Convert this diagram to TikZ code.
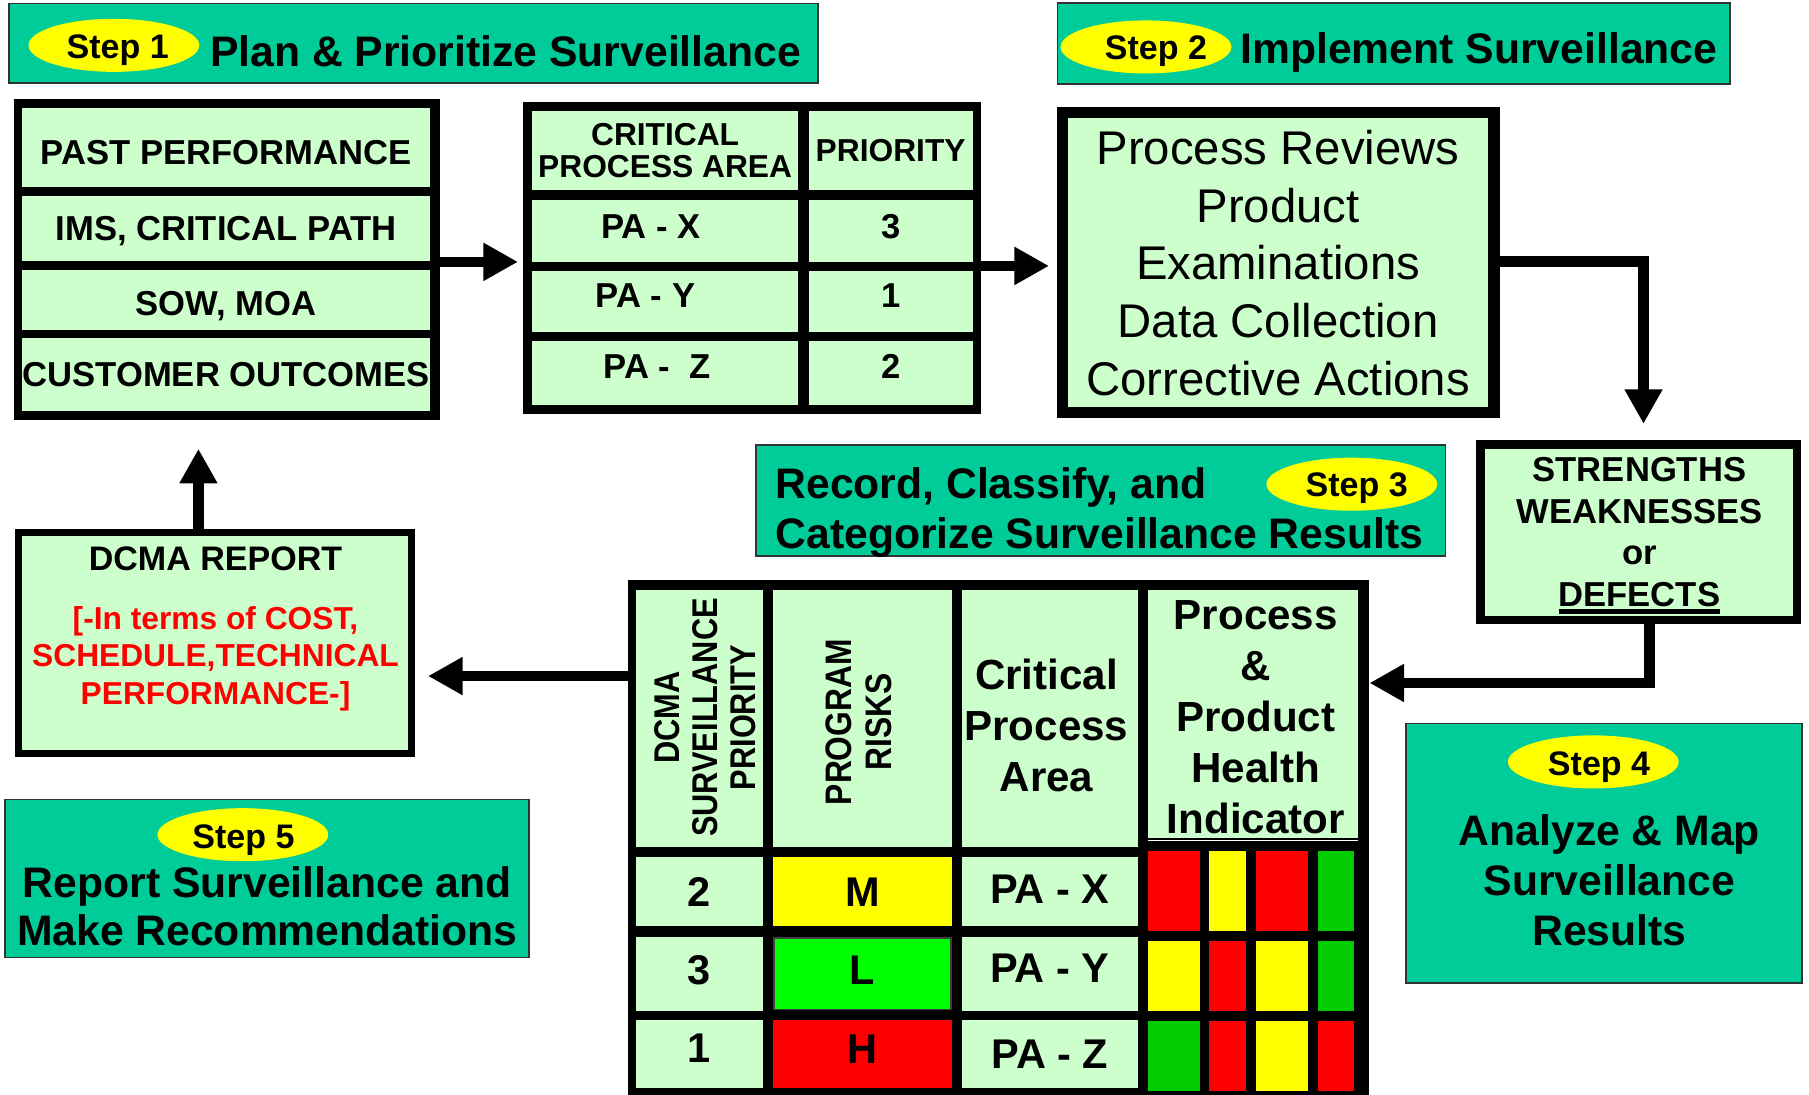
\documentclass[tikz,border=0pt]{standalone}
\usepackage{fontspec}
\setmainfont{Liberation Sans}
\newfontfamily\condfont[FakeStretch=0.86]{Liberation Sans}
\usetikzlibrary{arrows.meta,shapes.geometric,calc}
\definecolor{tealc}{HTML}{00CC99}
\definecolor{lgreen}{HTML}{CCFFCC}
\definecolor{yel}{HTML}{FFFF00}
\definecolor{rd}{HTML}{FF0000}
\definecolor{bgreen}{HTML}{00FF00}
\definecolor{dgreen}{HTML}{00CC00}
\definecolor{bline}{HTML}{333333}
\newcommand\setfs[2]{\fontsize{#1pt}{#2pt}\selectfont}
\newcommand\rectnode[7]{\node[#6, minimum width={(#4-#2)*1pt}, minimum height={(#5-#3)*1pt}] (#1) at ({(#2+#4)/2},{(#3+#5)/2}) {#7};}
\newcommand\thickul[1]{\setbox0=\hbox{#1}\rlap{\rule[-6.5pt]{\wd0}{4.5pt}}\box0}
\tikzset{
  frame/.style={fill=black, inner sep=0pt, outer sep=0pt},
  cell/.style={fill=lgreen, inner sep=0pt, outer sep=0pt, align=center, text depth=0pt},
  tabA/.style={cell, font=\setfs{30}{36}\bfseries},
  tabE/.style={cell, font=\setfs{36}{44}\bfseries},
  banner/.style={fill=tealc, draw=bline, line width=1.5pt, inner sep=0pt},
  stepoval/.style={ellipse, fill=yel, minimum width=148pt, minimum height=46pt, inner sep=0pt},
  steptext/.style={inner sep=0pt, text depth=0pt, font=\setfs{29.5}{34}\bfseries},
  title/.style={inner sep=0pt, text depth=0pt, font=\setfs{37}{44}\bfseries},
  hdrtext/.style={inner sep=0pt, text depth=0pt, align=center},
  bar/.style={inner sep=0pt, outer sep=0pt},
  arr/.style={line width=9pt, -{Triangle[length=30pt,width=31pt]}},
}
\begin{document}
\begin{tikzpicture}[x=1pt,y=-1pt]
\useasboundingbox (0,0) rectangle (1568,949);

% ---------- Step 1 banner
\rectnode{ban1}{8}{3}{709}{72}{banner}{}
\node[stepoval] (s1) at (98.7,39.3) {};
\node[steptext] (s1t) at (102,40) {Step 1};
\node[title, anchor=west] (t1) at (182,44.5) {Plan \& Prioritize Surveillance};

% ---------- Step 2 banner
\rectnode{ban2}{916.6}{2.8}{1499.5}{72.5}{banner}{}
\node[stepoval] (s2) at (993.3,40.7) {};
\node[steptext] (s2t) at (1002,41) {Step 2};
\node[title, anchor=west] (t2) at (1075,41.5) {Implement Surveillance};

% ---------- List A
\rectnode{fA}{12}{86}{381}{364}{frame}{}
\rectnode{a1}{19}{94}{373}{162}{tabA, text height=29.5pt}{PAST PERFORMANCE}
\rectnode{a2}{19}{170}{373}{226}{tabA}{IMS, CRITICAL PATH}
\rectnode{a3}{19}{234}{373}{286}{tabA, text height=27.5pt}{SOW, MOA}
\rectnode{a4}{19}{293}{373}{356}{tabA}{CUSTOMER OUTCOMES}

% ---------- Table B
\rectnode{fB}{453}{88}{850}{359}{frame}{}
\rectnode{b11}{461}{96}{692}{165}{cell, font=\setfs{27.5}{27.6}\bfseries}{CRITICAL\\PROCESS AREA}
\rectnode{b12}{701}{96}{843}{165}{cell, font=\setfs{27.5}{30}\bfseries}{PRIORITY}
\rectnode{b21}{461}{173}{692}{227}{tabA, text depth=7pt}{PA - X\hspace*{25pt}}
\rectnode{b22}{701}{173}{843}{227}{tabA, text depth=7pt}{3}
\rectnode{b31}{461}{235}{692}{288}{tabA, text depth=11pt}{PA - Y\hspace*{34pt}}
\rectnode{b32}{701}{235}{843}{288}{tabA, text depth=11pt}{1}
\rectnode{b41}{461}{296}{692}{351}{tabA, text depth=12pt}{PA - \ Z\hspace*{14pt}}
\rectnode{b42}{701}{296}{843}{351}{tabA, text depth=12pt}{2}

% ---------- Box C
\rectnode{fC}{916}{93}{1300}{362}{frame}{}
\rectnode{cC}{925.5}{102.6}{1290}{352.7}{cell, font=\setfs{41}{50}}{Process Reviews\\Product\\Examinations\\Data Collection\\Corrective Actions}

% ---------- Box D
\rectnode{fD}{1279.5}{381.4}{1561}{540.6}{frame}{}
\rectnode{cD}{1287.5}{389}{1554.5}{533.5}{cell, font=\setfs{30}{36}\bfseries}{STRENGTHS\\WEAKNESSES\\or\\\thickul{DEFECTS}}

% ---------- Step 3 banner
\rectnode{ban3}{655}{386}{1253}{482}{banner}{}
\node[title, anchor=west, align=left, font=\setfs{37}{43.5}\bfseries] (t3) at (672,440) {Record, Classify, and\\Categorize Surveillance Results};
\node[stepoval] (s3) at (1171.7,419.7) {};
\node[steptext] (s3t) at (1176,420) {Step 3};

% ---------- Step 4 banner
\rectnode{ban4}{1218.7}{627}{1562}{851.8}{banner}{}
\node[stepoval] (s4) at (1381,660.4) {};
\node[steptext] (s4t) at (1386,662) {Step 4};
\node[title, align=center, font=\setfs{37}{43.25}\bfseries] (t4) at (1395,762.8) {Analyze \& Map\\Surveillance\\Results};

% ---------- Step 5 banner
\rectnode{ban5}{4.2}{693}{458.5}{830}{banner}{}
\node[stepoval] (s5) at (210.5,723.5) {};
\node[steptext] (s5t) at (211,725) {Step 5};
\node[title, align=center, font=\setfs{37}{41.8}\bfseries] (t5) at (231.7,785.1) {Report Surveillance and\\Make Recommendations};

% ---------- Box F
\rectnode{fF}{13}{458.5}{360}{656}{frame}{}
\rectnode{cF}{19.5}{464.7}{354}{650}{cell}{}
\node[hdrtext, font=\setfs{29.5}{34}\bfseries] (fT1) at (186.8,483.8) {DCMA REPORT};
\node[hdrtext, text=rd, font=\setfs{27.5}{32.5}\bfseries] (fT2) at (186.8,568) {[-In terms of COST,\\SCHEDULE,TECHNICAL\\PERFORMANCE-]};

% ---------- Table E
\rectnode{fE}{544}{503}{1187}{949}{frame}{}
\rectnode{h1}{551}{511}{661}{734}{cell}{}
\node[hdrtext, rotate=90, font=\condfont\setfs{31}{33}\bfseries] (h1t) at (611,622) {DCMA\\SURVEILLANCE\\PRIORITY};
\rectnode{h2}{670}{511}{825}{734}{cell}{}
\node[hdrtext, rotate=90, font=\condfont\setfs{32}{35}\bfseries] (h2t) at (744,626) {PROGRAM\\RISKS};
\rectnode{h3}{834}{511}{986}{734}{cell}{}
\node[hdrtext, font=\setfs{36.5}{44.2}\bfseries] (h3t) at (907,628.2) {Critical\\Process\\Area};
\rectnode{h4}{995}{511}{1177}{726}{cell}{}
\node[hdrtext, font=\setfs{36.5}{44.25}\bfseries] (h4t) at (1088.5,621.5) {Process\\\&\\Product\\Health\\Indicator};
\draw[white, line width=1.5pt] ([yshift=-2.5pt]h4.south west) -- ([yshift=-2.5pt]h4.south east);

\rectnode{e11}{551}{743}{661}{803}{tabE}{2}
\rectnode{e12}{670}{743}{825}{803}{tabE, fill=yel}{M}
\rectnode{e13}{834}{743}{986}{803}{tabE, text depth=4pt}{PA - X}
\rectnode{e21}{551}{812}{661}{876}{tabE, text depth=7pt}{3}
\rectnode{e22}{671}{813}{824}{875}{tabE, fill=bgreen, draw=black!75, line width=1.5pt, text depth=6pt}{L}
\rectnode{e23}{834}{812}{986}{876}{tabE, text depth=10pt}{PA - Y}
\rectnode{e31}{551}{884}{661}{943}{tabE, text depth=10pt}{1}
\rectnode{e32}{670}{884}{825}{943}{tabE, fill=rd, text depth=8pt}{H}
\rectnode{e33}{834}{884}{986}{943}{tabE}{PA - Z}

% health indicator bars
\rectnode{g11}{995}{738}{1040}{807}{bar, fill=rd}{}
\rectnode{g12}{1048}{738}{1080}{807}{bar, fill=yel}{}
\rectnode{g13}{1089}{738}{1134}{807}{bar, fill=rd}{}
\rectnode{g14}{1142}{738}{1174}{807}{bar, fill=dgreen}{}
\rectnode{g21}{995}{816}{1040}{876}{bar, fill=yel}{}
\rectnode{g22}{1048}{816}{1080}{876}{bar, fill=rd}{}
\rectnode{g23}{1089}{816}{1134}{876}{bar, fill=yel}{}
\rectnode{g24}{1142}{816}{1174}{876}{bar, fill=dgreen}{}
\rectnode{g31}{995}{885}{1040}{946}{bar, fill=dgreen}{}
\rectnode{g32}{1048}{885}{1080}{946}{bar, fill=rd}{}
\rectnode{g33}{1089}{885}{1134}{946}{bar, fill=yel}{}
\rectnode{g34}{1142}{885}{1174}{946}{bar, fill=rd}{}

% ---------- Connectors
\draw[arr, shorten >=4pt] ([yshift=-2pt]fA.east) -- ([yshift=-2pt]fA.east -| fB.west);
\draw[arr, shorten >=6.7pt] ([yshift=-7pt]fB.east) -- ([yshift=-7pt]fB.east -| fC.west);
\draw[arr, shorten >=14pt] ([yshift=1pt]fC.east) -| ([xshift=4.3pt]fD.north);
\coordinate (inE) at ([yshift=134pt]fE.east);
\draw[arr] ([xshift=9.4pt]fD.south) |- (inE);
\coordinate (outE) at ([yshift=140pt]fE.west);
\draw[arr, shorten >=11pt] (outE) -- (outE -| fF.east);
\draw[arr, shorten >=25pt] ([xshift=-14.5pt]fF.north) -- ([xshift=-14.5pt]fF.north |- fA.south);
\end{tikzpicture}
\end{document}
